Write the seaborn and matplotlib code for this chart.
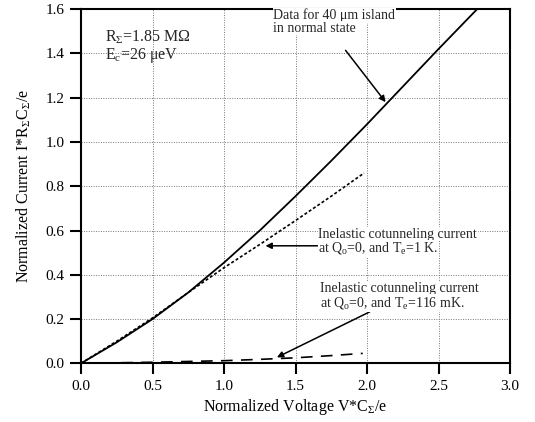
import matplotlib
matplotlib.use('Agg')
import matplotlib.pyplot as plt
import seaborn as sns

# Measured I-V curve, 40 um island in normal state
voltage_data = [0.0, 0.25, 0.5, 0.75, 1.0, 1.25, 1.5, 1.75, 2.0, 2.25, 2.5, 2.77]
current_data = [0.0, 0.095, 0.2, 0.32, 0.455, 0.6, 0.755, 0.915, 1.08, 1.25, 1.42, 1.6]

# Inelastic cotunneling, Te = 1 K
voltage_1k = [0.0, 0.25, 0.5, 0.75, 1.0, 1.25, 1.5, 1.75, 1.98]
current_1k = [0.0, 0.1, 0.205, 0.32, 0.432, 0.537, 0.645, 0.755, 0.86]

# Inelastic cotunneling, Te = 116 mK
voltage_116mk = [0.0, 0.5, 1.0, 1.25, 1.5, 1.75, 1.97]
current_116mk = [0.0, 0.005, 0.012, 0.018, 0.025, 0.035, 0.045]

x_ticks = [0.0, 0.5, 1.0, 1.5, 2.0, 2.5, 3.0]
y_ticks = [0.0, 0.2, 0.4, 0.6, 0.8, 1.0, 1.2, 1.4, 1.6]

sns.set_theme(style='ticks')
plt.rcParams['font.family'] = ['Liberation Serif', 'DejaVu Serif']
plt.rcParams['mathtext.fontset'] = 'custom'
plt.rcParams['mathtext.rm'] = 'Liberation Serif'
plt.rcParams['mathtext.it'] = 'Liberation Serif:italic'

fig = plt.figure(figsize=(5.35, 4.22), dpi=100)
ax = fig.add_axes([0.1514, 0.139, 0.8019, 0.8393])

sns.lineplot(x=voltage_data, y=current_data, ax=ax, color='black', lw=1.3)
sns.lineplot(x=voltage_1k, y=current_1k, ax=ax, color='black', lw=1.2, linestyle=(0, (1.8, 1.3)))
sns.lineplot(x=voltage_116mk, y=current_116mk, ax=ax, color='black', lw=1.2, linestyle=(0, (7, 5)))

ax.set_xlim(0, 3.0)
ax.set_ylim(0, 1.6)
ax.set_xticks(x_ticks)
ax.set_yticks(y_ticks)
ax.set_xticklabels(['%.1f' % v for v in x_ticks])
ax.set_yticklabels(['%.1f' % v for v in y_ticks])
ax.grid(True, linestyle=(0, (1, 1.5)), color='#777777', lw=0.7)
for s in ax.spines.values():
    s.set_visible(True)
    s.set_color('black')
    s.set_linewidth(1.5)
ax.tick_params(direction='out', length=8, width=1.5, labelsize=11, colors='black', pad=4)

ax.set_xlabel('Normalized Voltage V*C$_{\\mathrm{Σ}}$/e', fontsize=11.5, color='black', labelpad=3)
ax.set_ylabel('Normalized Current I*R$_{\\mathrm{Σ}}$C$_{\\mathrm{Σ}}$/e', fontsize=11.5, color='black', labelpad=9)

# Annotations
ax.text(0.168, 1.474, 'R$_{\\mathrm{Σ}}$=1.85 MΩ', fontsize=11.5, va='center', ha='left')
ax.text(0.168, 1.392, 'E$_{\\mathrm{c}}$=26 μeV', fontsize=11.5, va='center', ha='left')

arrow = dict(arrowstyle='-|>', color='black', lw=1.1, mutation_scale=9, shrinkA=0, shrinkB=0)
box = dict(fc='white', ec='none', pad=0.5)
ax.annotate('', xy=(2.13, 1.18), xytext=(1.85, 1.414), arrowprops=arrow)
ax.text(1.345, 1.572, 'Data for 40 μm island', fontsize=10, va='center', ha='left', bbox=box)
ax.text(1.345, 1.514, 'in normal state', fontsize=10, va='center', ha='left', bbox=box)

ax.annotate('', xy=(1.29, 0.531), xytext=(1.654, 0.531), arrowprops=arrow)
ax.text(1.66, 0.584, 'Inelastic cotunneling current', fontsize=10, va='center', ha='left', bbox=box)
ax.text(1.66, 0.52, 'at Q$_{\\mathrm{o}}$=0, and T$_{\\mathrm{e}}$=1 K.', fontsize=10, va='center', ha='left', bbox=box)

ax.annotate('', xy=(1.37, 0.027), xytext=(2.02, 0.233), arrowprops=arrow)
ax.text(1.668, 0.34, 'Inelastic cotunneling current', fontsize=10, va='center', ha='left', bbox=box)
ax.text(1.668, 0.272, 'at Q$_{\\mathrm{o}}$=0, and T$_{\\mathrm{e}}$=116 mK.', fontsize=10, va='center', ha='left', bbox=box)

fig.savefig('out.png', dpi=100)
